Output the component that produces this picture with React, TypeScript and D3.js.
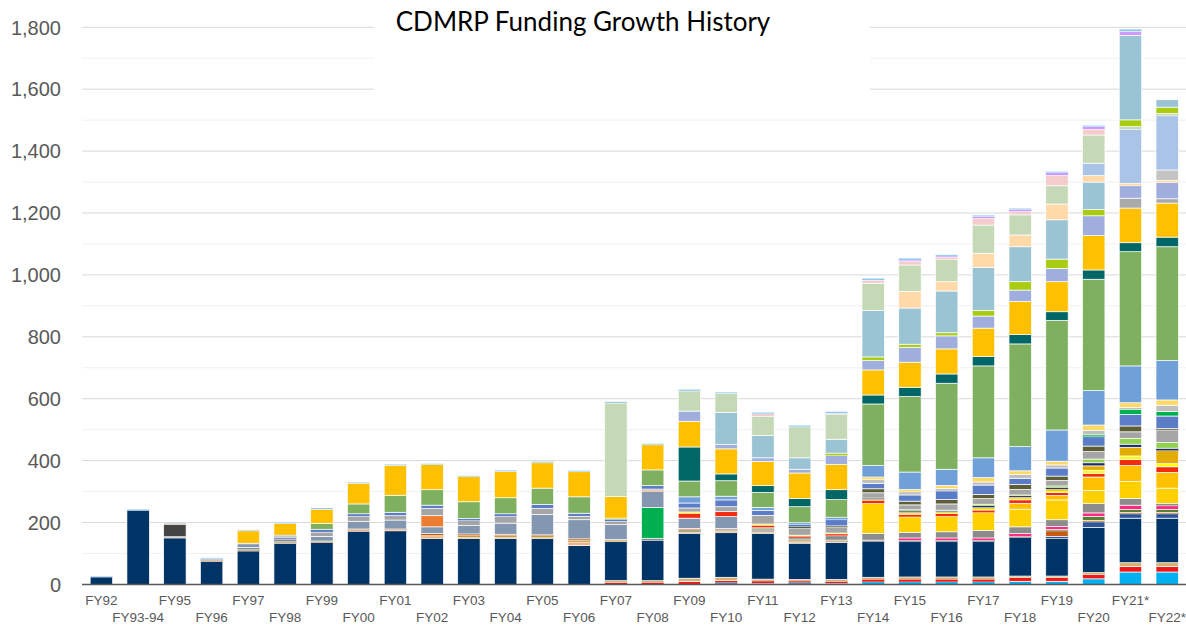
import React from 'react'
import * as d3 from 'd3'

const categories = [
  'FY92', 'FY93-94', 'FY95', 'FY96', 'FY97', 'FY98', 'FY99', 'FY00', 'FY01', 'FY02',
  'FY03', 'FY04', 'FY05', 'FY06', 'FY07', 'FY08', 'FY09', 'FY10', 'FY11', 'FY12',
  'FY13', 'FY14', 'FY15', 'FY16', 'FY17', 'FY18', 'FY19', 'FY20', 'FY21*', 'FY22*',
]

const yTicks = [0, 200, 400, 600, 800, 1000, 1200, 1400, 1600, 1800]

// funding ($M) per program segment, bottom of the stack first
const cyan = [0, 0, 0, 0, 0, 0, 0, 0, 0, 0, 0, 0, 0, 0, 0, 0, 0, 5, 4, 5, 4, 8, 8, 8, 8, 10, 10, 18, 40, 40]
const red = [0, 0, 0, 0, 0, 0, 0, 0, 0, 0, 0, 0, 0, 0, 6, 7, 10, 8, 7, 6, 6, 9, 9, 9, 9, 12, 12, 14, 18, 18]
const tan = [0, 0, 0, 0, 0, 0, 0, 0, 0, 0, 0, 0, 0, 0, 6, 5, 10, 10, 6, 5, 6, 6, 7, 7, 7, 5, 5, 6, 12, 12]
const breast = [24, 240, 150, 74, 108, 133, 135, 172, 173, 148, 148, 148, 148, 126, 126, 131, 145, 144, 148, 117, 119, 117, 114, 114, 114, 124, 122, 146, 144, 144]
const pink = [0, 0, 0, 0, 0, 0, 0, 5, 3, 6, 4, 4, 3, 11, 0, 0, 4, 4, 3, 3, 2, 0, 0, 0, 0, 0, 0, 0, 0, 0]
const oliveGold = [0, 0, 0, 0, 0, 0, 0, 0, 0, 5, 6, 6, 6, 6, 4, 0, 4, 4, 3, 3, 0, 0, 0, 0, 0, 0, 0, 0, 0, 0]
const blue = [0, 0, 0, 0, 0, 0, 0, 0, 0, 0, 0, 0, 0, 0, 0, 0, 3, 3, 3, 0, 0, 0, 3, 3, 3, 3, 6, 18, 14, 14]
const brown = [0, 0, 2, 3, 3, 3, 3, 2, 3, 5, 5, 4, 3, 4, 3, 0, 3, 3, 3, 3, 3, 3, 2, 2, 2, 2, 18, 4, 4, 4]
const darkGreen = [0, 0, 0, 0, 3, 2, 2, 0, 0, 0, 0, 0, 0, 0, 0, 0, 0, 0, 3, 4, 3, 0, 0, 0, 0, 0, 4, 13, 10, 10]
const magenta = [0, 0, 0, 0, 0, 0, 0, 0, 0, 0, 0, 0, 0, 0, 0, 0, 0, 0, 0, 0, 0, 0, 7, 7, 7, 8, 10, 12, 14, 12]
const gray = [0, 0, 0, 4, 5, 6, 0, 0, 0, 0, 0, 0, 0, 0, 0, 6, 2, 0, 4, 4, 14, 22, 18, 20, 24, 22, 22, 30, 22, 8]
const brightGreen = [0, 0, 0, 0, 0, 0, 0, 0, 0, 0, 0, 0, 0, 0, 0, 99, 0, 0, 0, 0, 0, 0, 0, 0, 0, 0, 0, 0, 0, 0]
const slate = [0, 0, 2, 2, 12, 8, 15, 25, 29, 22, 27, 36, 66, 62, 48, 52, 33, 38, 0, 0, 0, 0, 0, 0, 0, 0, 0, 0, 0, 0]
const darkGray = [0, 0, 40, 0, 0, 0, 0, 0, 0, 0, 0, 0, 0, 0, 0, 0, 0, 0, 0, 0, 0, 0, 0, 0, 0, 0, 0, 0, 0, 0]
const yellowLow = [0, 0, 0, 0, 0, 0, 0, 0, 0, 0, 0, 0, 0, 0, 0, 0, 0, 0, 0, 0, 0, 97, 50, 50, 58, 57, 64, 43, 54, 49]
const yellowLow2 = [0, 0, 0, 0, 0, 0, 0, 0, 0, 0, 0, 0, 0, 0, 0, 0, 0, 0, 0, 0, 0, 0, 0, 0, 0, 19, 14, 43, 52, 51]
const orange = [0, 0, 3, 0, 0, 0, 0, 0, 0, 36, 0, 0, 0, 0, 0, 4, 0, 0, 0, 0, 0, 0, 0, 0, 0, 0, 0, 0, 0, 0]
const red2 = [0, 0, 0, 0, 0, 0, 0, 0, 0, 0, 0, 0, 0, 0, 0, 0, 16, 16, 7, 6, 6, 8, 8, 8, 8, 11, 10, 12, 20, 18]
const yellowThin = [0, 0, 0, 0, 0, 0, 0, 0, 0, 0, 0, 0, 0, 0, 0, 0, 4, 0, 4, 3, 3, 0, 3, 3, 4, 4, 5, 10, 11, 10]
const gold = [0, 0, 0, 0, 0, 0, 0, 0, 0, 0, 0, 0, 0, 0, 0, 0, 0, 0, 0, 0, 0, 5, 4, 3, 5, 5, 6, 14, 28, 42]
const navy2 = [0, 0, 0, 0, 0, 0, 0, 0, 0, 0, 0, 0, 0, 0, 0, 0, 0, 0, 0, 0, 0, 4, 4, 3, 5, 4, 5, 10, 10, 8]
const lime = [0, 0, 0, 0, 0, 0, 0, 0, 0, 0, 0, 0, 0, 0, 0, 0, 0, 0, 0, 0, 0, 0, 4, 3, 5, 3, 5, 12, 19, 19]
const gray2 = [0, 0, 0, 0, 0, 3, 14, 16, 14, 23, 16, 22, 19, 11, 11, 4, 13, 16, 28, 22, 18, 17, 16, 20, 18, 18, 18, 24, 21, 40]
const olive = [0, 0, 0, 0, 0, 0, 0, 0, 0, 0, 0, 0, 0, 0, 0, 0, 0, 0, 0, 5, 5, 13, 12, 14, 14, 16, 14, 18, 19, 5]
const blue2 = [0, 0, 0, 0, 2, 4, 9, 8, 11, 11, 7, 8, 13, 10, 5, 11, 16, 22, 16, 8, 20, 17, 20, 28, 30, 20, 26, 30, 37, 40]
const brightGreen2 = [0, 0, 0, 0, 0, 0, 0, 0, 0, 0, 0, 0, 0, 0, 0, 0, 0, 0, 0, 0, 0, 0, 0, 0, 0, 0, 0, 6, 17, 15]
const silver = [0, 0, 0, 0, 0, 0, 0, 0, 0, 0, 0, 0, 0, 0, 0, 0, 0, 0, 0, 0, 0, 13, 10, 8, 10, 12, 10, 14, 6, 20]
const yellow3 = [0, 0, 0, 0, 0, 0, 0, 0, 0, 0, 0, 0, 0, 0, 0, 0, 0, 0, 0, 0, 0, 8, 8, 10, 14, 12, 12, 18, 15, 17]
const cornflower = [0, 0, 0, 0, 0, 0, 0, 0, 0, 0, 0, 0, 0, 0, 0, 0, 20, 12, 10, 5, 8, 37, 56, 52, 64, 78, 101, 111, 119, 127]
const green = [0, 0, 0, 0, 0, 0, 19, 32, 55, 50, 54, 52, 53, 53, 5, 51, 51, 50, 48, 52, 57, 199, 244, 278, 297, 332, 354, 360, 369, 368]
const teal = [0, 0, 0, 0, 0, 0, 0, 0, 0, 0, 0, 0, 0, 0, 0, 0, 110, 22, 22, 26, 32, 29, 30, 30, 30, 30, 28, 30, 29, 31]
const yellow = [0, 0, 0, 0, 40, 38, 46, 67, 97, 81, 81, 85, 82, 81, 70, 81, 83, 81, 78, 83, 82, 81, 81, 81, 92, 107, 97, 111, 112, 110]
const gray4 = [0, 0, 0, 0, 0, 0, 0, 0, 0, 0, 0, 0, 0, 0, 0, 0, 0, 0, 0, 0, 0, 0, 0, 0, 0, 0, 0, 0, 32, 14]
const lavender = [0, 0, 0, 0, 0, 0, 0, 0, 0, 0, 0, 0, 0, 0, 0, 0, 33, 14, 12, 12, 28, 30, 48, 42, 39, 37, 43, 64, 40, 52]
const yellowGreen = [0, 0, 0, 0, 0, 0, 0, 0, 0, 0, 0, 0, 0, 0, 0, 0, 0, 0, 0, 0, 8, 12, 10, 10, 18, 27, 30, 20, 0, 0]
const lightBlue = [0, 0, 0, 0, 0, 0, 0, 0, 0, 0, 0, 0, 0, 0, 0, 0, 0, 103, 72, 37, 45, 150, 117, 135, 139, 113, 127, 89, 0, 0]
const peach = [0, 0, 0, 0, 0, 0, 0, 0, 0, 0, 0, 0, 0, 0, 0, 0, 0, 0, 0, 0, 0, 0, 54, 30, 46, 38, 51, 21, 8, 7]
const silver2 = [0, 0, 0, 0, 0, 0, 0, 0, 0, 0, 0, 0, 0, 0, 0, 0, 0, 0, 0, 0, 0, 0, 0, 0, 0, 0, 0, 0, 0, 34]
const lightSteel = [0, 0, 0, 0, 0, 0, 0, 0, 0, 0, 0, 0, 0, 0, 0, 0, 0, 0, 0, 0, 0, 0, 0, 0, 0, 0, 0, 40, 175, 175]
const lightGreen = [0, 0, 0, 0, 0, 0, 0, 0, 0, 0, 0, 0, 0, 0, 302, 0, 65, 62, 62, 100, 80, 88, 85, 73, 91, 65, 59, 91, 8, 8]
const pinkLight = [0, 0, 0, 0, 0, 0, 0, 0, 0, 0, 0, 0, 0, 0, 0, 0, 0, 0, 8, 0, 4, 10, 12, 6, 22, 11, 34, 19, 0, 0]
const yellowGreen2 = [0, 0, 0, 0, 0, 0, 0, 0, 0, 0, 0, 0, 0, 0, 0, 0, 0, 0, 0, 0, 0, 0, 0, 0, 0, 0, 0, 0, 22, 20]
const lightBlue2 = [0, 0, 0, 0, 0, 0, 0, 0, 0, 0, 0, 0, 0, 0, 0, 0, 0, 0, 0, 0, 0, 0, 0, 0, 0, 0, 0, 0, 273, 24]
const capViolet = [0, 0, 0, 0, 0, 0, 0, 0, 0, 0, 0, 0, 0, 0, 0, 0, 0, 0, 0, 0, 0, 0, 4, 4, 6, 6, 8, 8, 13, 0]
const capBlue = [3, 3, 3, 3, 3, 4, 4, 3, 3, 3, 3, 4, 4, 4, 4, 4, 5, 4, 5, 5, 5, 6, 6, 4, 4, 4, 4, 4, 7, 0]

const layers = [
  { key: 'cyan', color: '#00b0f0', values: cyan },
  { key: 'red', color: '#f01818', values: red },
  { key: 'tan', color: '#d4b06a', values: tan },
  { key: 'breast', color: '#003366', values: breast },
  { key: 'pink', color: '#f4b183', values: pink },
  { key: 'oliveGold', color: '#bf9f3f', values: oliveGold },
  { key: 'blue', color: '#2f5597', values: blue },
  { key: 'brown', color: '#c55a11', values: brown },
  { key: 'darkGreen', color: '#548235', values: darkGreen },
  { key: 'magenta', color: '#ff2a7f', values: magenta },
  { key: 'gray', color: '#8c8c8c', values: gray },
  { key: 'brightGreen', color: '#00b050', values: brightGreen },
  { key: 'slate', color: '#8497b0', values: slate },
  { key: 'darkGray', color: '#444444', values: darkGray },
  { key: 'yellowLow', color: '#ffd000', values: yellowLow },
  { key: 'yellowLow2', color: '#ffc000', values: yellowLow2 },
  { key: 'orange', color: '#ed7d31', values: orange },
  { key: 'red2', color: '#f22c10', values: red2 },
  { key: 'yellowThin', color: '#ffff00', values: yellowThin },
  { key: 'gold', color: '#e2ac00', values: gold },
  { key: 'navy2', color: '#1f2a66', values: navy2 },
  { key: 'lime', color: '#92d050', values: lime },
  { key: 'gray2', color: '#a5a5a5', values: gray2 },
  { key: 'olive', color: '#5e5e36', values: olive },
  { key: 'blue2', color: '#5b7cc6', values: blue2 },
  { key: 'brightGreen2', color: '#00b050', values: brightGreen2 },
  { key: 'silver', color: '#bfbfbf', values: silver },
  { key: 'yellow3', color: '#ffd966', values: yellow3 },
  { key: 'cornflower', color: '#6fa0d8', values: cornflower },
  { key: 'green', color: '#7fb060', values: green },
  { key: 'teal', color: '#006666', values: teal },
  { key: 'yellow', color: '#ffc000', values: yellow },
  { key: 'gray4', color: '#aaaaaa', values: gray4 },
  { key: 'lavender', color: '#9faedc', values: lavender },
  { key: 'yellowGreen', color: '#a9cc10', values: yellowGreen },
  { key: 'lightBlue', color: '#9ac4d4', values: lightBlue },
  { key: 'peach', color: '#ffd9a8', values: peach },
  { key: 'silver2', color: '#c4c4c4', values: silver2 },
  { key: 'lightSteel', color: '#a9c4e6', values: lightSteel },
  { key: 'lightGreen', color: '#c5d9b7', values: lightGreen },
  { key: 'pinkLight', color: '#f4cccc', values: pinkLight },
  { key: 'yellowGreen2', color: '#a9cc10', values: yellowGreen2 },
  { key: 'lightBlue2', color: '#9ac4d4', values: lightBlue2 },
  { key: 'capViolet', color: '#cc99ff', values: capViolet },
  { key: 'capBlue', color: '#8ec8f0', values: capBlue },
]

export default function App() {
  const width = 1186
  const height = 626
  const plotLeft = 82
  const plotRight = 1186

  const x = d3.scaleBand()
    .domain(categories)
    .range([83, 1185.6])
    .paddingInner(0.39)
    .paddingOuter(0.195)

  const y = d3.scaleLinear().domain([0, 1800]).range([584.4, 27.3])

  const rows = categories.map((cat, i) => {
    const row: Record<string, any> = { cat }
    layers.forEach((l) => { row[l.key] = l.values[i] })
    return row
  })
  const stacked = d3.stack().keys(layers.map((l) => l.key))(rows as any)
  const colorOf = Object.fromEntries(layers.map((l) => [l.key, l.color]))

  const gridValues = d3.range(0, 1801, 100)
  const fmt = d3.format(',')

  return (
    <svg
      width={width}
      height={height}
      style={{ position: 'absolute', left: 0, top: 0, background: '#fff' }}
      fontFamily="'Liberation Sans', Arial, sans-serif"
    >
      {gridValues.map((v) => (
        <line
          key={v}
          x1={plotLeft}
          x2={plotRight}
          y1={y(v)}
          y2={y(v)}
          stroke={v % 200 === 0 ? '#d9d9d9' : '#f0f0f0'}
          strokeWidth={1}
        />
      ))}

      {yTicks.map((v) => (
        <text
          key={v}
          x={61}
          y={y(v)}
          dy="0.36em"
          textAnchor="end"
          fontSize={20}
          fill="#595959"
        >
          {fmt(v)}
        </text>
      ))}

      {stacked.map((layer) => (
        <g key={layer.key} fill={colorOf[layer.key]}>
          {layer.map((d, i) => {
            const h = y(d[0]) - y(d[1])
            if (h <= 0) return null
            return (
              <rect
                key={categories[i]}
                x={x(categories[i])}
                y={y(d[1])}
                width={x.bandwidth()}
                height={h}
                stroke="#fff"
                strokeWidth={h > 3 ? 0.7 : 0.3}
              />
            )
          })}
        </g>
      ))}

      <line x1={plotLeft} x2={plotRight} y1={y(0)} y2={y(0)} stroke="#595959" strokeWidth={1.5} />

      {categories.map((c, i) => (
        <text
          key={c}
          x={(x(c) ?? 0) + x.bandwidth() / 2}
          y={i % 2 === 0 ? 605 : 622}
          textAnchor="middle"
          fontSize={13.5}
          fill="#595959"
        >
          {c}
        </text>
      ))}

      <rect x={374} y={0} width={496} height={104} fill="#fff" />
      <text
        x={583}
        y={31}
        textAnchor="middle"
        fontSize={26}
        fontFamily="Lato, 'Open Sans', sans-serif"
        fill="#000"
      >
        CDMRP Funding Growth History
      </text>
    </svg>
  )
}
